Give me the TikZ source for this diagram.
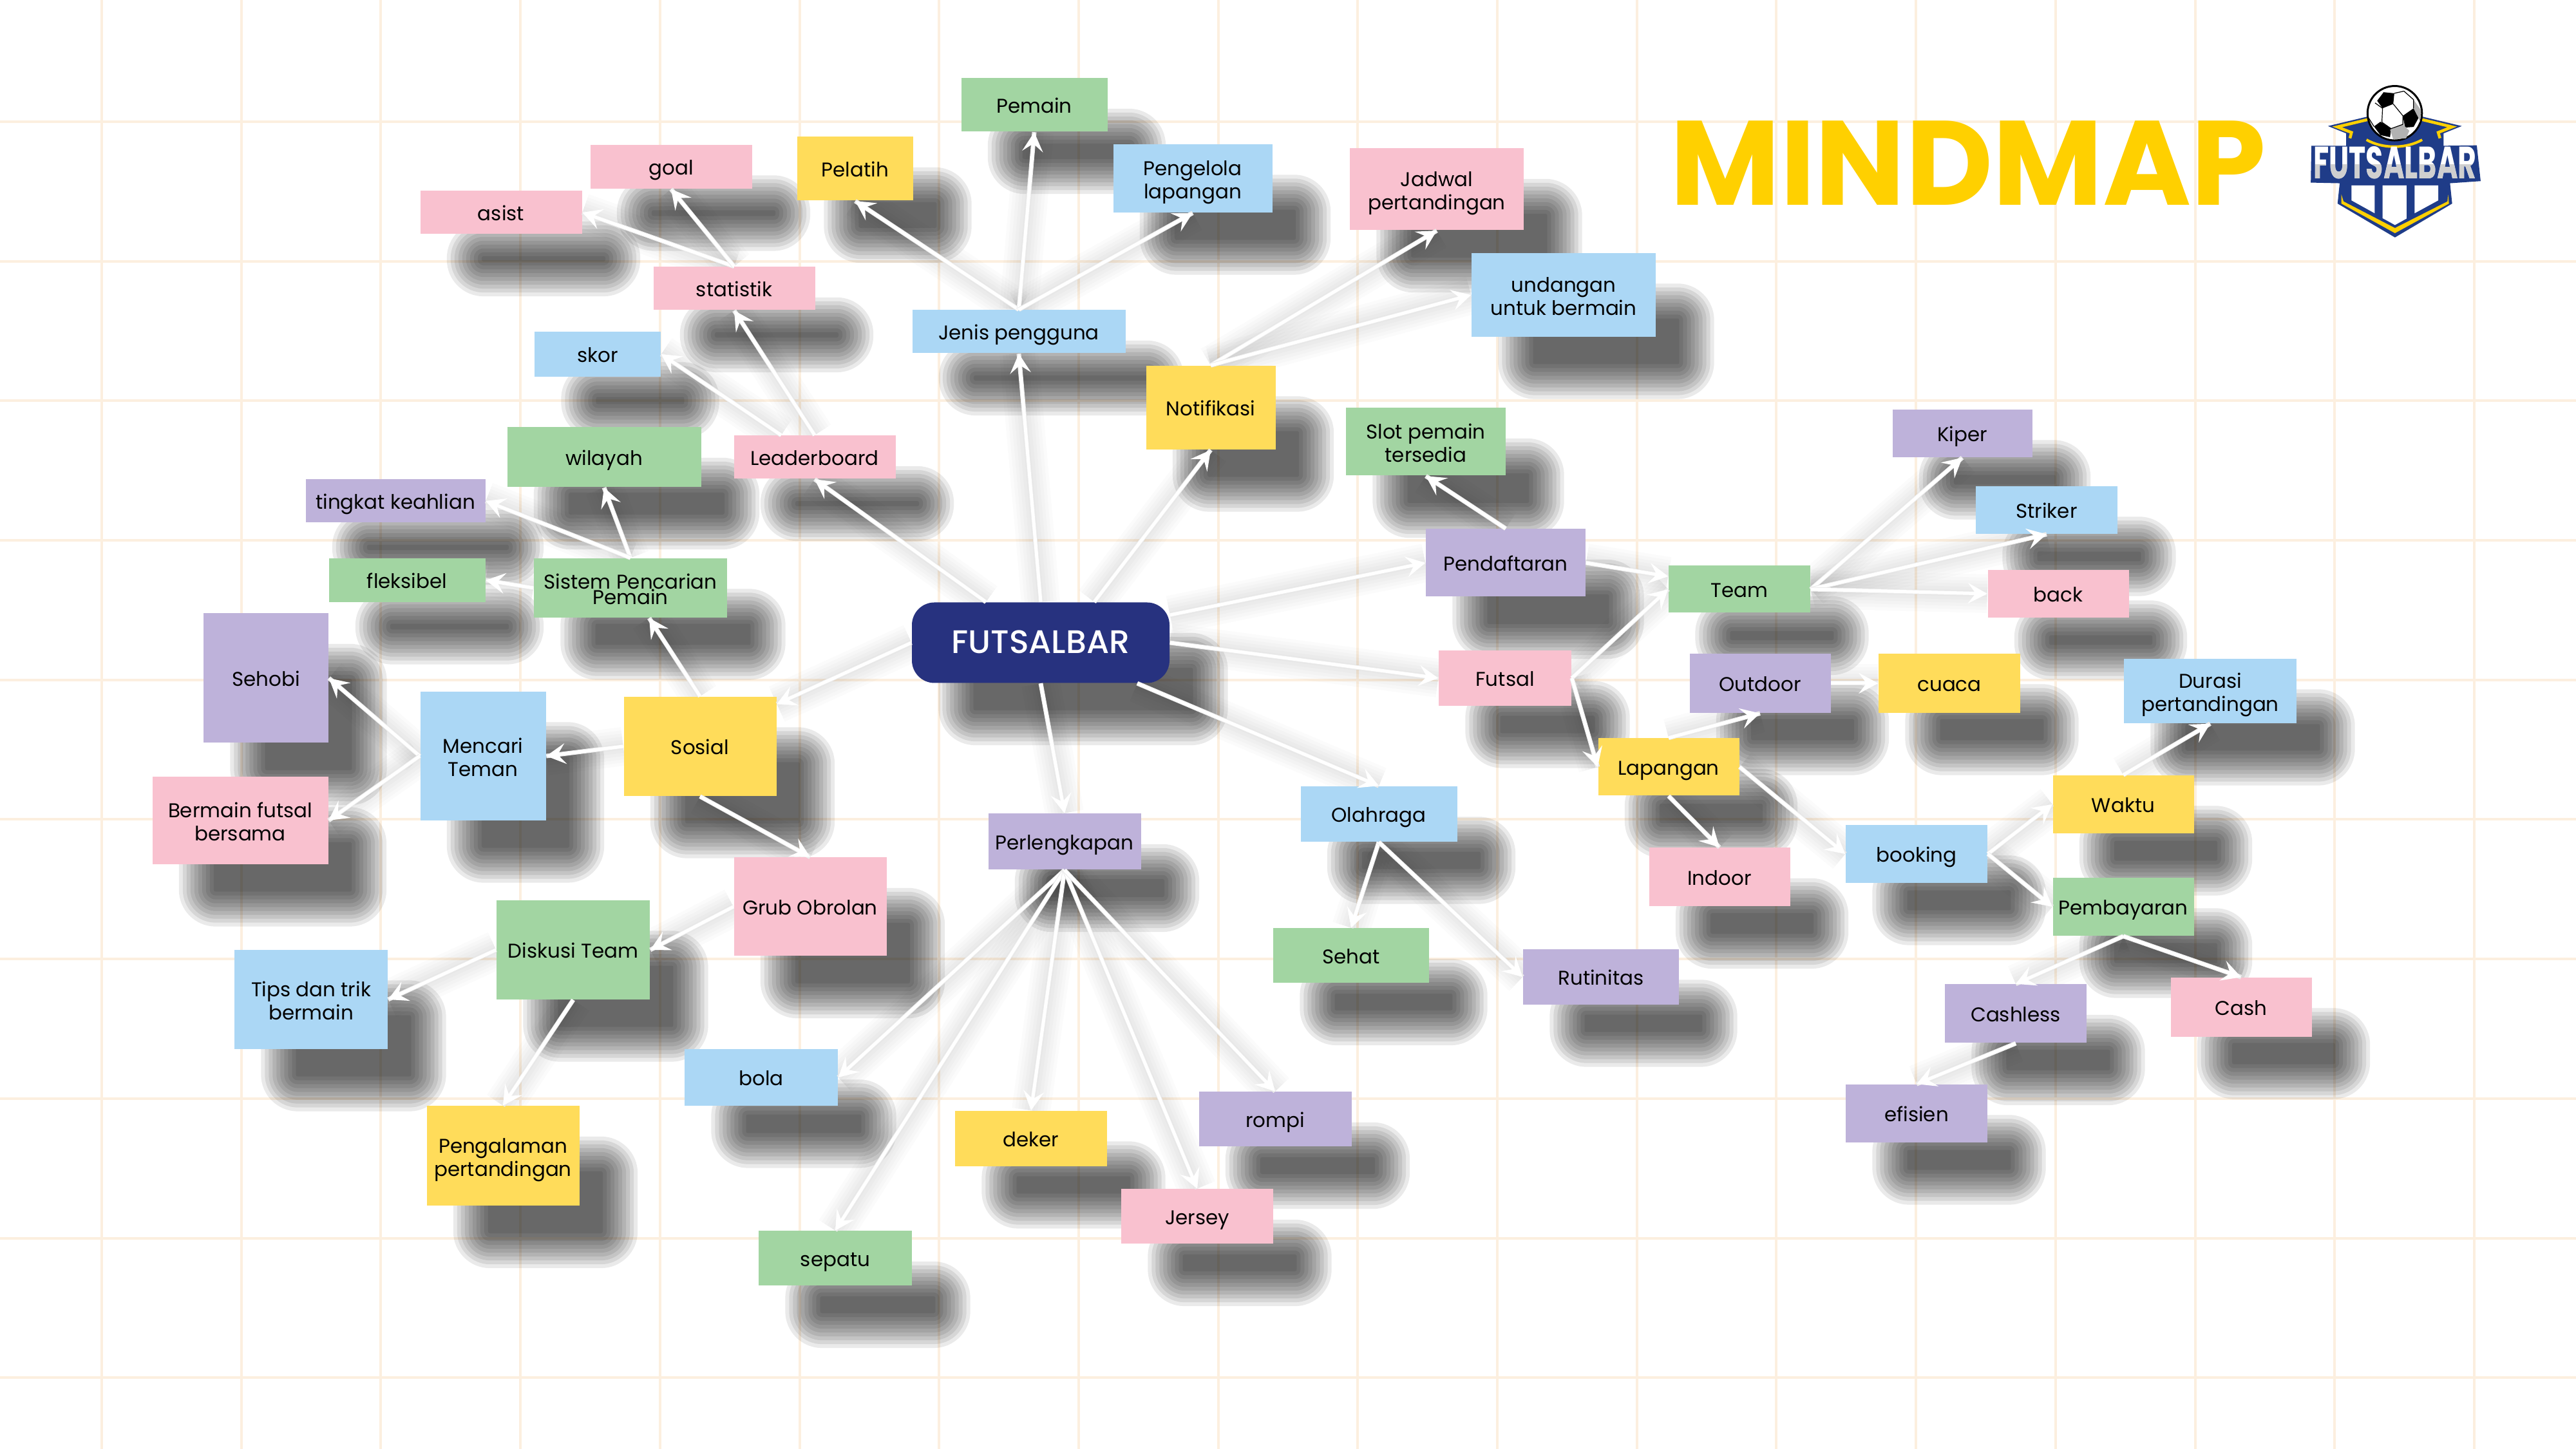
\documentclass[tikz,border=0pt]{standalone}
\usepackage{fontspec}
\setmainfont{Poppins}
\newfontfamily\hubfont{Poppins Medium}
\usetikzlibrary{arrows.meta,backgrounds}
\definecolor{rose}{HTML}{F9C1CF}
\definecolor{sky}{HTML}{ABD7F5}
\definecolor{leaf}{HTML}{A2D5A2}
\definecolor{sun}{HTML}{FFDC5A}
\definecolor{lilac}{HTML}{BEB2DA}
\definecolor{navy}{HTML}{27327F}
\definecolor{crest}{HTML}{1F3C88}
\definecolor{gold}{HTML}{FFD000}
\definecolor{paper}{HTML}{FCEFDF}
\tikzset{stickbox/.style={align=center,inner sep=0pt,text height=.32cm,text depth=.06cm,font=\fontsize{8.8}{10.3}\selectfont},twolines/.style={text height=.70cm},dim/.style 2 args={minimum width=#1cm,minimum height=#2cm},wire/.style={white,line width=.05cm,-{Stealth[length=3mm,width=3.2mm,inset=1.2mm]}},wirerim/.style={black!8,line width=.07cm},wireglow/.style={black,opacity=.015},softshade/.style={black,opacity=.083}}
\newcommand{\wirelink}[2]{%
\begin{scope}[on background layer,transform canvas={shift={(.66,-.72)}}]
\foreach \w in {.1,.2,.3,.4,.5,.6}{\draw[wireglow,line width=\w cm] #1 -- #2;}
\end{scope}
\draw[wirerim] #1 -- #2;
\draw[wire] #1 -- #2;}
\newcommand{\softbox}[1]{%
\begin{scope}[on background layer]
\foreach \r/\c in {-.3/.03,-.24/.09,-.18/.15,-.12/.21,-.06/.27,0/.33,.06/.39,.12/.45,.18/.51,.24/.57}{\fill[softshade,rounded corners=\c cm] ([shift={(.66-\r,-.72-\r)}]#1.south west) rectangle ([shift={(.66+\r,-.72+\r)}]#1.north east);}
\end{scope}}
\begin{document}
\begin{tikzpicture}
\useasboundingbox (0,0) rectangle (40,22.5);
\begin{scope}[on background layer]
\fill[white] (0,0) rectangle (40,22.5);
\foreach \k in {0,...,17}{\draw[paper,line width=.04cm] ({1.58+2.167*\k},0) -- ({1.58+2.167*\k},22.5);}
\foreach \k in {0,...,9}{\draw[paper,line width=.04cm] (0,{20.61-2.167*\k}) -- (40,{20.61-2.167*\k});}
\end{scope}
\node[anchor=base,gold,font=\fontsize{53}{60}\selectfont\bfseries] (title) at (30.56,19.31) {MINDMAP};
\node[stickbox,fill=rose,dim={2.51}{.67}] (asist) at (7.78,19.2) {asist};
\node[stickbox,fill=rose,dim={2.51}{.68}] (goal) at (10.42,19.91) {goal};
\node[stickbox,fill=lilac,dim={2.79}{.67}] (tingkat) at (6.14,14.72) {tingkat keahlian};
\node[stickbox,fill=lilac,dim={1.94}{2.01}] (sehobi) at (4.13,11.97) {Sehobi};
\node[stickbox,fill=sky,dim={1.96}{.70}] (skor) at (9.28,17) {skor};
\node[stickbox,fill=leaf,dim={2.43}{.68}] (fleksibel) at (6.32,13.49) {fleksibel};
\node[stickbox,fill=rose,dim={2.51}{.67}] (statistik) at (11.40,18.02) {statistik};
\node[stickbox,fill=sun,dim={1.80}{.99}] (pelatih) at (13.28,19.88) {Pelatih};
\node[stickbox,twolines,fill=rose,dim={2.73}{1.36}] (bermain) at (3.73,9.76) {Bermain futsal\\bersama};
\node[stickbox,fill=leaf,dim={3.01}{.93}] (wilayah) at (9.38,15.40) {wilayah};
\node[stickbox,fill=leaf,dim={2.27}{.83}] (pemain) at (16.06,20.87) {Pemain};
\node[stickbox,text height=.58cm,fill=leaf,dim={3.00}{.92},font=\fontsize{8.8}{6.9}\selectfont] (sistem) at (9.79,13.37) {Sistem Pencarian\\Pemain};
\node[stickbox,twolines,fill=sky,dim={1.95}{2.00}] (mencari) at (7.50,10.76) {Mencari\\Teman};
\node[stickbox,fill=rose,dim={2.51}{.67}] (leaderboard) at (12.65,15.40) {Leaderboard};
\node[stickbox,twolines,fill=sky,dim={2.38}{1.54}] (tips) at (4.83,6.98) {Tips dan trik\\bermain};
\node[stickbox,fill=sky,dim={3.31}{.67}] (jenis) at (15.82,17.35) {Jenis pengguna};
\node[stickbox,twolines,fill=sky,dim={2.47}{1.06}] (pengelola) at (18.52,19.73) {Pengelola\\lapangan};
\node[stickbox,fill=sun,dim={2.37}{1.54}] (sosial) at (10.87,10.91) {Sosial};
\node[stickbox,fill=leaf,dim={2.38}{1.54}] (diskusi) at (8.90,7.75) {Diskusi Team};
\node[stickbox,fill=sun,dim={2.01}{1.30}] (notifikasi) at (18.80,16.17) {Notifikasi};
\node[stickbox,twolines,fill=rose,dim={2.70}{1.27}] (jadwal) at (22.31,19.56) {Jadwal\\pertandingan};
\node[stickbox,twolines,fill=sun,dim={2.37}{1.55}] (pengalaman) at (7.81,4.55) {Pengalaman\\pertandingan};
\node[stickbox,fill=navy,text=white,rounded corners=.35cm,dim={4.00}{1.25},text height=.44cm,text depth=.10cm,font=\fontsize{14.4}{16}\selectfont\hubfont] (hub) at (16.16,12.52) {FUTSALBAR};
\node[stickbox,fill=rose,dim={2.37}{1.53}] (grub) at (12.58,8.42) {Grub Obrolan};
\node[stickbox,fill=sky,dim={2.38}{.88}] (bola) at (11.82,5.77) {bola};
\node[stickbox,twolines,fill=sky,dim={2.86}{1.30}] (undangan) at (24.28,17.92) {undangan\\untuk bermain};
\node[stickbox,twolines,fill=leaf,dim={2.48}{1.05}] (slot) at (22.14,15.64) {Slot pemain\\tersedia};
\node[stickbox,fill=lilac,dim={2.37}{.87}] (perlengkapan) at (16.53,9.43) {Perlengkapan};
\node[stickbox,fill=lilac,dim={2.48}{1.05}] (pendaftaran) at (23.38,13.76) {Pendaftaran};
\node[stickbox,fill=leaf,dim={2.38}{.85}] (sepatu) at (12.97,2.96) {sepatu};
\node[stickbox,fill=sun,dim={2.36}{.86}] (deker) at (16.01,4.82) {deker};
\node[stickbox,fill=rose,dim={2.06}{.86}] (futsal) at (23.37,11.97) {Futsal};
\node[stickbox,fill=sky,dim={2.43}{.86}] (olahraga) at (21.41,9.86) {Olahraga};
\node[stickbox,fill=leaf,dim={2.42}{.85}] (sehat) at (20.98,7.66) {Sehat};
\node[stickbox,fill=leaf,dim={2.20}{.73}] (team) at (27.01,13.35) {Team};
\node[stickbox,fill=lilac,dim={2.37}{.85}] (rompi) at (19.80,5.12) {rompi};
\node[stickbox,fill=lilac,dim={2.17}{.74}] (kiper) at (30.47,15.77) {Kiper};
\node[stickbox,fill=rose,dim={2.36}{.85}] (jersey) at (18.59,3.61) {Jersey};
\node[stickbox,fill=sun,dim={2.19}{.89}] (lapangan) at (25.91,10.59) {Lapangan};
\node[stickbox,fill=lilac,dim={2.19}{.92}] (outdoor) at (27.33,11.89) {Outdoor};
\node[stickbox,fill=sky,dim={2.20}{.74}] (striker) at (31.78,14.58) {Striker};
\node[stickbox,fill=lilac,dim={2.42}{.86}] (rutinitas) at (24.86,7.33) {Rutinitas};
\node[stickbox,fill=rose,dim={2.19}{.91}] (indoor) at (26.70,8.88) {Indoor};
\node[stickbox,fill=sun,dim={2.20}{.92}] (cuaca) at (30.27,11.89) {cuaca};
\node[stickbox,fill=rose,dim={2.19}{.74}] (back) at (31.96,13.28) {back};
\node[stickbox,fill=sky,dim={2.20}{.90}] (booking) at (29.76,9.24) {booking};
\node[stickbox,twolines,fill=sky,dim={2.68}{1.00}] (durasi) at (34.32,11.77) {Durasi\\pertandingan};
\node[stickbox,fill=sun,dim={2.19}{.90}] (waktu) at (32.97,10.01) {Waktu};
\node[stickbox,fill=lilac,dim={2.20}{.90}] (efisien) at (29.76,5.21) {efisien};
\node[stickbox,fill=lilac,dim={2.20}{.91}] (cashless) at (31.30,6.76) {Cashless};
\node[stickbox,fill=leaf,dim={2.19}{.90}] (pembayaran) at (32.97,8.42) {Pembayaran};
\node[stickbox,fill=rose,dim={2.19}{.92}] (cash) at (34.80,6.86) {Cash};
\wirelink{(hub.west)}{([yshift=-.12cm]sosial.north east)}
\wirelink{([xshift=-.85cm]hub.north)}{(leaderboard.south)}
\wirelink{(hub.north)}{(jenis.south)}
\wirelink{([xshift=.83cm]hub.north)}{(notifikasi.south)}
\wirelink{([yshift=.43cm]hub.east)}{(pendaftaran.west)}
\wirelink{(hub.east)}{(futsal.west)}
\wirelink{([xshift=1.5cm]hub.south)}{(olahraga.north)}
\wirelink{(hub.south)}{(perlengkapan.north)}
\wirelink{(jenis.north)}{(pelatih.south)}
\wirelink{(jenis.north)}{(pemain.south)}
\wirelink{(jenis.north)}{(pengelola.south)}
\wirelink{(notifikasi.north)}{(jadwal.south)}
\wirelink{(notifikasi.north)}{(undangan.west)}
\wirelink{(leaderboard.north)}{(statistik.south)}
\wirelink{([xshift=-.52cm]leaderboard.north)}{(skor.east)}
\wirelink{(statistik.north)}{(asist.east)}
\wirelink{(statistik.north)}{(goal.south)}
\wirelink{(sosial.north)}{([xshift=.29cm]sistem.south)}
\wirelink{(sistem.north)}{(wilayah.south)}
\wirelink{(sistem.north)}{(tingkat.east)}
\wirelink{(sistem.west)}{(fleksibel.east)}
\wirelink{(sosial.west)}{(mencari.east)}
\wirelink{(mencari.west)}{(sehobi.east)}
\wirelink{(mencari.west)}{(bermain.east)}
\wirelink{(sosial.south)}{(grub.north)}
\wirelink{(grub.west)}{(diskusi.east)}
\wirelink{(diskusi.west)}{(tips.east)}
\wirelink{(diskusi.south)}{(pengalaman.north)}
\wirelink{(perlengkapan.south)}{(bola.east)}
\wirelink{(perlengkapan.south)}{(sepatu.north)}
\wirelink{(perlengkapan.south)}{(deker.north)}
\wirelink{(perlengkapan.south)}{(jersey.north)}
\wirelink{(perlengkapan.south)}{(rompi.north)}
\wirelink{(olahraga.south)}{(sehat.north)}
\wirelink{(olahraga.south)}{(rutinitas.west)}
\wirelink{(pendaftaran.north)}{(slot.south)}
\wirelink{(pendaftaran.east)}{([yshift=.2cm]team.west)}
\wirelink{(futsal.east)}{(team.west)}
\wirelink{(futsal.east)}{(lapangan.west)}
\wirelink{(team.east)}{(kiper.south)}
\wirelink{(team.east)}{(striker.south)}
\wirelink{(team.east)}{(back.west)}
\wirelink{(lapangan.north)}{(outdoor.south)}
\wirelink{(outdoor.east)}{(cuaca.west)}
\wirelink{(lapangan.east)}{(booking.west)}
\wirelink{(lapangan.south)}{(indoor.north)}
\wirelink{(booking.east)}{(waktu.west)}
\wirelink{(booking.east)}{(pembayaran.west)}
\wirelink{(waktu.north)}{(durasi.south)}
\wirelink{(pembayaran.south)}{(cashless.north)}
\wirelink{(pembayaran.south)}{(cash.north)}
\wirelink{(cashless.south)}{(efisien.north)}
\foreach \n in {asist,goal,tingkat,sehobi,skor,fleksibel,statistik,pelatih,bermain,wilayah,pemain,sistem,mencari,leaderboard,tips,jenis,pengelola,sosial,diskusi,notifikasi,jadwal,pengalaman,hub,grub,bola,undangan,slot,perlengkapan,pendaftaran,sepatu,deker,futsal,olahraga,sehat,team,rompi,kiper,jersey,lapangan,outdoor,striker,rutinitas,indoor,cuaca,back,booking,durasi,waktu,efisien,cashless,pembayaran,cash}{\softbox{\n}}
\begin{scope}[shift={(35,21.5)},x=.00333cm,y=-.00333cm]
\fill[crest] (345,288) -- (525,245) -- (790,245) -- (970,288) -- (885,322) -- (885,380) -- (1040,378) -- (1058,545) -- (915,555) -- (925,650) -- (658,808) -- (390,650) -- (400,555) -- (265,552) -- (268,380) -- (430,380) -- (430,322) -- cycle;
\draw[gold,line width=.045cm] (530,258) -- (388,292) -- (455,318) -- (448,345);
\draw[gold,line width=.045cm] (785,258) -- (925,292) -- (860,318) -- (868,345);
\draw[gold,line width=.04cm] (525,352) .. controls (600,395) and (710,395) .. (785,352);
\fill[white] (455,565) -- (563,565) -- (563,695) -- (455,635) -- cycle;
\fill[white] (600,565) -- (712,565) -- (712,720) -- (658,750) -- (600,718) -- cycle;
\fill[white] (750,565) -- (860,565) -- (860,635) -- (750,695) -- cycle;
\fill[gold] (408,608) -- (418,640) -- (658,764) -- (903,640) -- (906,608) -- (910,650) -- (658,788) -- (408,650) -- cycle;
\node[white,xscale=.63,transform shape,font=\fontsize{20}{24}\selectfont\bfseries,inner sep=0pt] (logotext) at (658,458) {FUTSALBAR};
\fill[black!19,blend mode=darken] (268,465) rectangle (1052,540);
\draw[black,fill=white,line width=.03cm] (657,228) circle[radius=127];
\fill[black] (575,170) -- (605,130) -- (655,135) -- (650,185) -- (600,205) -- cycle;
\fill[black] (695,240) -- (745,205) -- (768,250) -- (745,292) -- (705,295) -- cycle;
\fill[black] (560,290) -- (590,268) -- (640,300) -- (635,340) -- (590,330) -- cycle;
\fill[black!30] (635,305) -- (695,280) -- (725,310) -- (710,345) -- (650,350) -- cycle;
\fill[black!30] (745,165) -- (780,215) -- (775,270) -- (768,250) -- (745,205) -- cycle;
\draw[black,line width=.012cm] (600,205) -- (597,270) -- (640,300) -- (695,280) -- (695,240) -- (650,185) (655,135) -- (700,125) (745,205) -- (745,165) -- (700,125) (560,290) -- (535,250) (600,205) -- (565,180);
\end{scope}
\end{tikzpicture}
\end{document}
